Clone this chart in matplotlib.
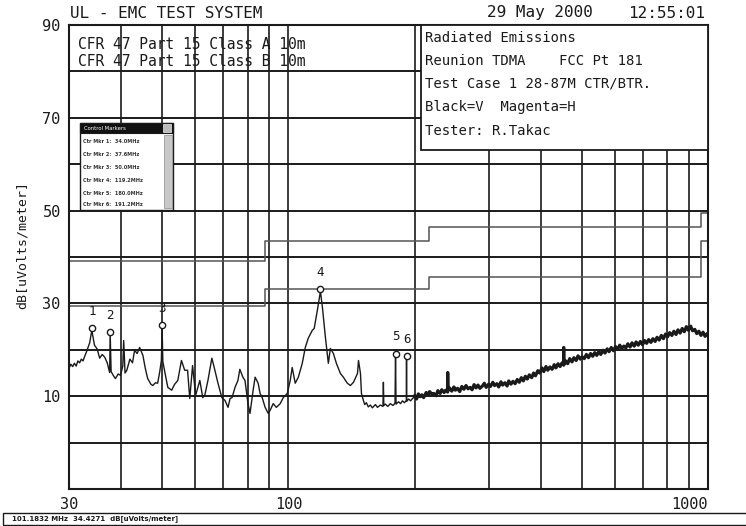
import matplotlib.pyplot as plt
import matplotlib.patches as patches

# spectrum trace (MHz, dB[uV/m]), 30-200 MHz part
freq_low = [30.0, 30.3, 30.6, 30.9, 31.2, 31.5, 31.8, 32.1, 32.4, 32.7, 33.0, 33.6, 34.0, 34.5,
            35.0, 35.5, 36.0, 36.5, 37.0, 37.5, 37.6, 37.8, 38.3, 38.7, 39.3, 39.8, 40.3,
            40.5, 40.8, 41.2, 41.9, 42.5, 43.0, 43.6, 44.2, 45.0, 45.6, 46.2, 47.0, 47.5,
            48.2, 48.8, 49.4, 49.8, 50.0, 50.2, 50.8, 51.6, 52.7, 53.5, 54.5, 55.6, 56.6,
            57.5, 58.2, 59.1, 60.1, 61.5, 62.5, 63.2, 64.3, 65.7, 66.8, 67.9, 69.4, 70.6,
            71.8, 72.6, 73.4, 74.6, 75.8, 76.6, 77.9, 78.8, 80.1, 81.0, 82.4, 83.3, 84.7,
            85.6, 86.6, 88.0, 89.5, 90.5, 92.0, 93.6, 95.6, 97.2, 99.4, 101.0, 102.1, 103.8,
            105.6, 107.9, 109.7, 111.5, 114.0, 115.2, 117.2, 119.2, 120.5, 122.5, 124.5,
            125.9, 128.0, 130.1, 133.0, 135.2, 138.2, 140.5, 142.9, 146.1, 146.9, 148.5,
            149.3, 150.9, 152.0, 153.4, 155.0, 156.8, 158.5, 161.2, 163.0, 165.6, 168.0,
            168.4, 168.8, 170.3, 172.5, 175.0, 177.5, 179.5, 180.0, 180.5, 183.0, 185.0,
            187.0, 189.0, 191.0, 191.2, 191.4, 193.5, 195.5, 198.0, 200.0]
level_low = [16.0, 16.9, 16.4, 17.1, 16.5, 17.6, 17.2, 18.0, 17.6, 18.6, 19.5, 21.5, 24.2, 21.0,
             20.2, 18.2, 19.0, 18.4, 17.2, 15.1, 23.8, 15.3, 14.4, 13.8, 14.8, 14.5, 16.5,
             22.0, 15.0, 15.6, 18.0, 17.2, 19.9, 19.2, 20.5, 18.8, 16.0, 13.8, 12.6, 12.3,
             12.9, 12.8, 15.5, 17.7, 25.0, 17.5, 15.0, 11.9, 11.3, 12.5, 13.4, 17.7, 15.6,
             15.6, 9.5, 16.6, 10.2, 13.4, 9.7, 10.2, 13.4, 18.2, 15.6, 12.9, 9.7, 9.1,
             7.6, 9.5, 9.7, 11.9, 13.4, 15.8, 14.1, 13.4, 8.4, 6.3, 11.3, 14.1, 12.8,
             10.6, 9.7, 7.6, 6.3, 7.0, 8.4, 7.6, 8.4, 9.7, 10.6, 13.4, 16.2, 12.8,
             14.1, 17.1, 20.5, 22.5, 24.2, 24.6, 28.5, 32.6, 29.2, 22.7, 17.1,
             20.3, 19.2, 17.1, 14.9, 14.1, 12.8, 12.3, 13.0, 14.9, 17.7, 14.9,
             10.6, 9.1, 8.2, 8.6, 7.7, 8.1, 7.5, 8.2, 7.6, 8.1, 7.8,
             13.0, 8.0, 8.3, 7.8, 8.4, 8.0, 8.5, 19.2, 8.3, 8.8, 8.4,
             9.0, 8.6, 9.1, 18.6, 8.9, 9.4, 9.0, 9.6, 9.8]

# 200-1000 MHz part (dense, noisy band)
freq_high = [200, 202, 204, 206, 208, 210, 213, 215, 217, 220, 222, 225, 227, 230, 232, 235,
             237, 239.5, 239.7, 240, 242, 245, 248, 250, 253, 256, 259, 262, 265, 268, 271,
             274, 277, 280, 283, 286, 290, 293, 296, 300, 303, 307, 310, 314, 317, 321, 324,
             328, 332, 335, 339, 343, 347, 351, 355, 359, 363, 367, 371, 375, 380, 384, 388,
             393, 397, 402, 406, 411, 415, 420, 425, 430, 434, 439, 444, 449, 452.8, 453,
             453.2, 458, 463, 468, 474, 479, 485, 490, 496, 501, 507, 513, 519, 525, 531,
             537, 543, 549, 555, 562, 568, 575, 581, 588, 595, 602, 609, 616, 623, 630, 637,
             644, 652, 659, 667, 674, 682, 690, 698, 706, 714, 722, 731, 739, 748, 756, 765,
             774, 783, 792, 801, 810, 820, 829, 839, 848, 858, 868, 878, 888, 898, 909, 919,
             930, 940, 951, 962, 973, 984, 995, 1000]
level_high = [10.1, 9.4, 10.5, 9.9, 10.3, 9.7, 10.8, 10.2, 11.0, 10.4, 10.6, 10.1, 11.2, 10.6, 11.4, 10.8,
              11.3, 10.9, 15.1, 11.2, 11.8, 11.1, 12.0, 11.3, 11.7, 11.0, 12.1, 11.5, 12.3, 11.6, 11.9,
              11.4, 12.5, 11.8, 12.4, 11.7, 12.2, 12.8, 11.9, 12.6, 12.1, 13.0, 12.3, 12.7, 12.0, 13.1, 12.4,
              12.9, 12.2, 13.3, 12.6, 13.2, 12.7, 13.6, 13.0, 14.0, 13.3, 14.3, 13.7, 14.6, 14.0, 15.0, 14.4,
              15.5, 15.0, 16.1, 15.3, 16.4, 15.6, 16.3, 15.8, 16.8, 16.1, 17.0, 16.4, 17.2, 16.7, 20.5,
              16.8, 17.6, 17.0, 18.1, 17.4, 18.3, 17.7, 18.7, 18.0, 18.5, 18.1, 19.0, 18.3, 19.2, 18.6,
              19.4, 18.8, 19.6, 19.0, 19.9, 19.3, 20.2, 19.6, 20.5, 19.8, 20.7, 20.1, 21.0, 20.3, 20.8, 20.4,
              21.3, 20.6, 21.5, 20.8, 21.7, 21.0, 21.8, 21.1, 22.0, 21.4, 22.2, 21.6, 22.4, 21.8, 22.7, 22.1,
              23.1, 22.4, 23.4, 22.8, 23.7, 23.1, 24.0, 23.3, 24.3, 23.6, 24.6, 23.9, 25.0, 24.2, 25.1, 24.1,
              24.4, 23.5, 24.0, 23.1, 23.8, 22.9, 23.5, 23.2]

# FCC part 15 limits at 10 m
limit_edges = [30, 88, 216, 960, 1000]
class_a = [39.1, 43.5, 46.4, 49.5, 49.5]
class_b = [29.5, 33.1, 35.6, 43.5, 43.5]

# markers
marker_ids = [1, 2, 3, 4, 5, 6]
marker_freq = [34.0, 37.6, 50.0, 119.2, 180.0, 191.2]
marker_level = [24.6, 23.8, 25.3, 33.0, 19.2, 18.6]

y_labels = ['90', '70', '50', '30', '10']
y_label_pos = [90, 70, 50, 30, 10]
x_labels = ['30', '100', '1000']
x_label_pos = [30, 100, 1000]
grid_freqs = [40, 50, 60, 70, 80, 90, 100, 200, 300, 400, 500, 600, 700, 800, 900]

mono = 'DejaVu Sans Mono'
ink = '#1a1a1a'

fig = plt.figure(figsize=(7.46, 5.26), dpi=100)
ax = fig.add_axes([0.0925, 0.0703, 0.8566, 0.8822])
ax.set_xscale('log')
ax.set_xlim(30, 1000)
ax.set_ylim(-10, 90)

# plotter grid
for f in grid_freqs:
    ax.axvline(f, color=ink, lw=1.2, zorder=1)
for lv in range(0, 90, 10):
    ax.axhline(lv, color=ink, lw=1.4, zorder=1)
for s in ax.spines.values():
    s.set_linewidth(1.5)
    s.set_color(ink)

ax.set_xticks(x_label_pos)
ax.set_xticklabels(x_labels, fontfamily=mono, fontsize=11)
ax.xaxis.set_minor_locator(plt.NullLocator())
ax.get_xticklabels()[-1].set_horizontalalignment('right')
ax.set_yticks(y_label_pos)
ax.set_yticklabels(y_labels, fontfamily=mono, fontsize=11)
ax.tick_params(length=0, pad=6, colors=ink)

# limit lines
ax.step(limit_edges, class_a, where='post', color='#555555', lw=1.1, zorder=2)
ax.step(limit_edges, class_b, where='post', color='#555555', lw=1.1, zorder=2)

# trace
ax.plot(freq_low, level_low, color=ink, lw=1.0, zorder=3)
ax.plot(freq_high, level_high, color=ink, lw=2.3, zorder=3)

# markers
ax.plot(marker_freq, marker_level, 'o', ms=4.5, mfc='white', mec=ink, mew=1.0, zorder=4)
for m, f, lv in zip(marker_ids, marker_freq, marker_level):
    ax.text(f, lv + 2.3, str(m), ha='center', va='bottom', fontsize=9,
            fontfamily=mono, color=ink, zorder=4)

# limit names (no box, grid shows through)
ax.text(0.014, 0.957, 'CFR 47 Part 15 Class A 10m', transform=ax.transAxes,
        fontfamily=mono, fontsize=10.5, va='center', color=ink)
ax.text(0.014, 0.921, 'CFR 47 Part 15 Class B 10m', transform=ax.transAxes,
        fontfamily=mono, fontsize=10.5, va='center', color=ink)

# info box
ax.add_patch(patches.Rectangle((0.551, 0.7306), 0.449, 0.2694, transform=ax.transAxes,
                               facecolor='white', edgecolor=ink, lw=1.3, zorder=5))
info = ['Radiated Emissions', 'Reunion TDMA    FCC Pt 181', 'Test Case 1 28-87M CTR/BTR.',
        'Black=V  Magenta=H', 'Tester: R.Takac']
info_y = [0.972, 0.922, 0.873, 0.823, 0.772]
for t, yy in zip(info, info_y):
    ax.text(0.557, yy, t, transform=ax.transAxes, fontfamily=mono, fontsize=10,
            va='center', color=ink, zorder=6)

# little control markers window
ax.add_patch(patches.Rectangle((0.0172, 0.601), 0.1456, 0.188, transform=ax.transAxes,
                               facecolor='white', edgecolor=ink, lw=1.0, zorder=5))
ax.add_patch(patches.Rectangle((0.0172, 0.767), 0.1456, 0.022, transform=ax.transAxes,
                               facecolor='#111111', edgecolor=ink, lw=0.8, zorder=6))
ax.add_patch(patches.Rectangle((0.147, 0.769), 0.012, 0.018, transform=ax.transAxes,
                               facecolor='#bbbbbb', edgecolor='#eeeeee', lw=0.5, zorder=7))
ax.text(0.024, 0.778, 'Control Markers', transform=ax.transAxes, fontsize=3.8,
        color='white', va='center', zorder=7)
ax.add_patch(patches.Rectangle((0.148, 0.606), 0.013, 0.157, transform=ax.transAxes,
                               facecolor='#c8c8c8', edgecolor='#888888', lw=0.5, zorder=6))
row_y = [0.748, 0.720, 0.692, 0.664, 0.636, 0.613]
for m, f, yy in zip(marker_ids, marker_freq, row_y):
    ax.text(0.022, yy, 'Ctr Mkr %d:  %.1fMHz' % (m, f), transform=ax.transAxes,
            fontsize=3.6, fontweight='bold', color='#333333', va='center', zorder=7)

# header texts
fig.text(70 / 746, 1 - 13 / 526, 'UL - EMC TEST SYSTEM', fontfamily=mono, fontsize=11.5,
         va='center', color=ink)
fig.text(487 / 746, 1 - 13 / 526, '29 May 2000', fontfamily=mono, fontsize=11.5,
         va='center', color=ink)
fig.text(628 / 746, 1 - 13 / 526, '12:55:01', fontfamily=mono, fontsize=11.5,
         va='center', color=ink)
fig.text(22 / 746, 1 - 245 / 526, 'dB[uVolts/meter]', fontfamily=mono, fontsize=9.5,
         rotation=90, ha='center', va='center', color=ink)

# status bar at the bottom
fig.patches.append(patches.Rectangle((3 / 746, 1 / 526), 1.0, 12 / 526, transform=fig.transFigure,
                                     facecolor='white', edgecolor=ink, lw=1.0))
fig.text(12 / 746, 7 / 526, '101.1832 MHz  34.4271  dB[uVolts/meter]', fontsize=5,
         fontweight='bold', va='center', color=ink)

fig.savefig('out.png', dpi=100)
